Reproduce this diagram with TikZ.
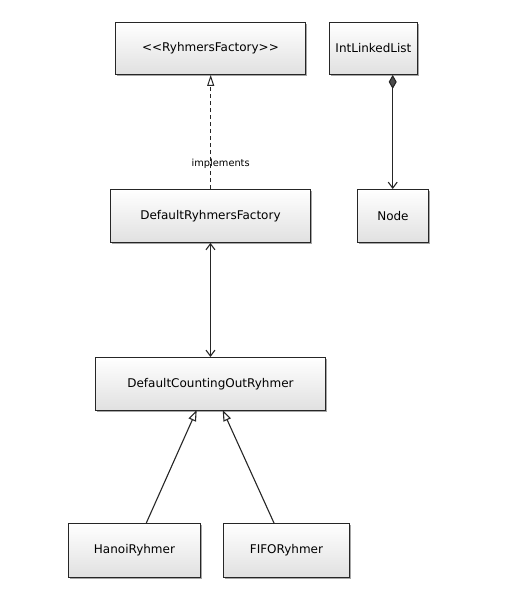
\documentclass[tikz,border=0pt]{standalone}
\usepackage{fontspec}
\setmainfont{DejaVu Sans}
\usetikzlibrary{arrows.meta}
\begin{document}
\begin{tikzpicture}[x=1pt,y=-1pt,
  cls/.style={draw=black!85,line width=0.9pt,top color=white,bottom color=black!12,
    font=\fontsize{12}{14}\selectfont},
  shadowbox/.style={fill=black!35,draw=none},
  conn/.style={draw=black!85,line width=1.1pt},
  lbl/.style={font=\fontsize{9.8}{11}\selectfont,inner sep=1pt}]
\useasboundingbox (0,0) rectangle (516,611);
\newcommand{\umlbox}[6]{%
  \fill[shadowbox] (#2+2,#3+2) rectangle (#4+2,#5+2);
  \node[cls,minimum width=#4-#2,minimum height=#5-#3,anchor=north west,inner sep=0pt] (#1) at (#2,#3) {#6};}
\umlbox{rf}{115}{22}{305}{74}{<{}<RyhmersFactory>{}>}
\umlbox{ill}{329}{22}{417}{74}{IntLinkedList}
\umlbox{drf}{110}{189}{310}{242}{DefaultRyhmersFactory}
\umlbox{nd}{357}{189}{428}{242}{Node}
\umlbox{dco}{95}{357}{325}{410}{DefaultCountingOutRyhmer}
\umlbox{hr}{68}{523}{200}{577}{HanoiRyhmer}
\umlbox{fr}{223}{523}{349}{577}{FIFORyhmer}
% implements
\draw[conn,line width=1pt,dashed,dash pattern=on 4pt off 3pt,-{Triangle[open,width=7pt,length=11pt,fill=white]}]
  (drf.north -| 210.7,0) -- (rf.south -| 210.7,0) node[lbl,pos=0.22,black,xshift=10pt] {implements};
% composition
\draw[conn,{Diamond[fill=black!70,width=8pt,length=14pt]}-{Straight Barb[length=6pt,width=9pt]}]
  (ill.south -| 392.7,0) -- (nd.north -| 392.7,0);
% bidirectional association
\draw[conn,{Straight Barb[length=6pt,width=9pt]}-{Straight Barb[length=6pt,width=9pt]}]
  (drf.south) -- (dco.north);
% inheritance
\coordinate (h1) at (146.3,523);
\coordinate (h2) at (196.7,410);
\coordinate (f1) at (274,523);
\coordinate (f2) at (222.7,410);
\draw[conn,-{Triangle[open,width=8pt,length=11pt,fill=white]}] (h1) -- (h2);
\draw[conn,-{Triangle[open,width=8pt,length=11pt,fill=white]}] (f1) -- (f2);
\end{tikzpicture}
\end{document}
